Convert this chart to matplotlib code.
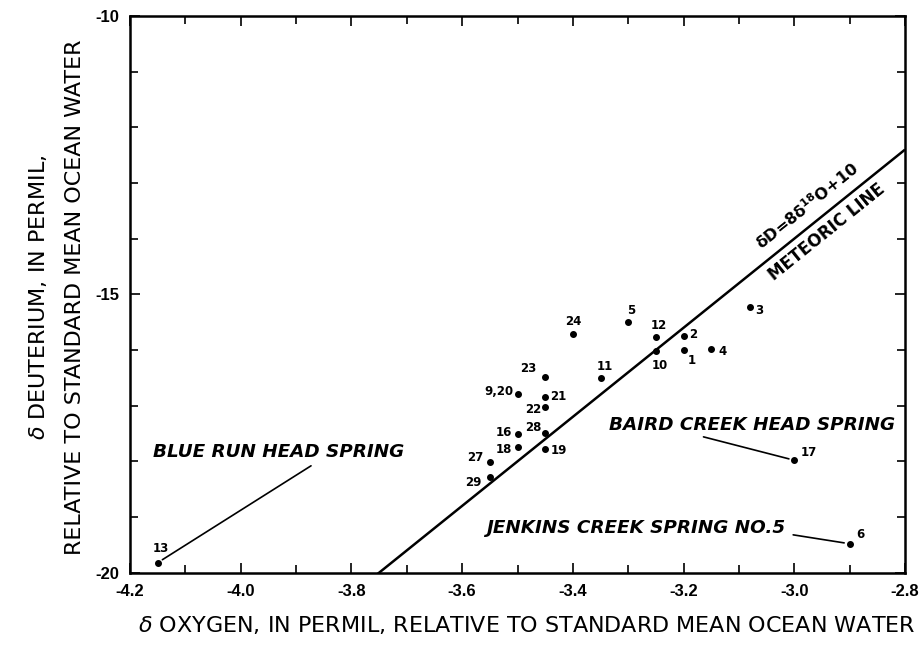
import numpy as np
import matplotlib
matplotlib.use("Agg")
import matplotlib.pyplot as plt
from matplotlib.ticker import MultipleLocator, FuncFormatter

plt.rcParams['font.family'] = ['DejaVu Sans']
plt.rcParams['mathtext.fontset'] = 'dejavusans'

# Spring sample identifiers and isotope values (per mil vs. SMOW)
sample_ids = ['1', '2', '3', '4', '5', '6', '9,20', '10', '11', '12', '13',
              '16', '17', '18', '19', '21', '22', '23', '24', '27', '28', '29']
delta_o18 = [-3.20, -3.20, -3.08, -3.15, -3.30, -2.90, -3.50, -3.25, -3.35, -3.25, -4.15,
             -3.50, -3.00, -3.50, -3.45, -3.45, -3.45, -3.45, -3.40, -3.55, -3.45, -3.55]
delta_d = [-16.00, -15.74, -15.23, -15.99, -15.50, -19.48, -16.79, -16.02, -16.50, -15.77, -19.82,
           -17.51, -17.98, -17.75, -17.77, -16.84, -17.02, -16.49, -15.71, -18.02, -17.49, -18.28]

# label placement (offset in pixels, horizontal alignment)
label_offsets = {
    '1': (8, -10, 'center'), '2': (6, 1, 'left'), '3': (5, -3, 'left'),
    '4': (7, -2, 'left'), '5': (3, 12, 'center'), '6': (7, 9, 'left'),
    '9,20': (-4, 2, 'right'), '10': (4, -14, 'center'), '11': (4, 11, 'center'),
    '12': (3, 12, 'center'), '13': (3, 14, 'center'), '16': (-5, 2, 'right'),
    '17': (6, 8, 'left'), '18': (-5, -2, 'right'), '19': (6, -2, 'left'),
    '21': (5, 0, 'left'), '22': (-4, -3, 'right'), '23': (-9, 9, 'right'),
    '24': (0, 12, 'center'), '27': (-6, 5, 'right'), '28': (-4, 5, 'right'),
    '29': (-8, -6, 'right'),
}

# Named springs: text position and leader line start, pointing to a sample
spring_names = ['BLUE RUN HEAD SPRING', 'BAIRD CREEK HEAD SPRING', 'JENKINS CREEK SPRING NO.5']
spring_sample = ['13', '17', '6']
spring_text_xy = [(-3.931, -17.83), (-3.076, -17.35), (-3.286, -19.20)]
spring_leader_start = [(-3.873, -18.08), (-3.164, -17.56), (-3.002, -19.32)]

# Global meteoric water line: dD = 8 d18O + 10
mwl_slope, mwl_intercept = 8.0, 10.0

fig = plt.figure(figsize=(9.2, 6.49), dpi=100)
ax = fig.add_axes([130 / 920, 1 - 572.7 / 649, 775 / 920, (572.7 - 16) / 649])

ax.set_xlim(-4.2, -2.8)
ax.set_ylim(-20, -10)

xline = np.array([-4.2, -2.8])
ax.plot(xline, mwl_slope * xline + mwl_intercept, color='black', lw=1.8,
        solid_capstyle='butt', zorder=2)

ax.plot(delta_o18, delta_d, 'o', color='black', ms=4, zorder=3, clip_on=False)

for sid, xo, yd in zip(sample_ids, delta_o18, delta_d):
    dx, dy, ha = label_offsets[sid]
    ax.annotate(sid, (xo, yd), xytext=(dx * 0.72, dy * 0.72), textcoords='offset points',
                ha=ha, va='center', fontsize=8.5, fontweight='bold')

for name, sid, txy, lstart in zip(spring_names, spring_sample, spring_text_xy, spring_leader_start):
    i = sample_ids.index(sid)
    ax.text(txy[0], txy[1], name, ha='center', va='center', fontsize=13.2,
            fontweight='bold', fontstyle='italic')
    ax.annotate('', xy=(delta_o18[i], delta_d[i]), xytext=lstart,
                arrowprops=dict(arrowstyle='-', color='black', lw=1.2,
                                shrinkA=0, shrinkB=4))

# labels along the meteoric line
fig.canvas.draw()
p0 = ax.transData.transform((-4.0, mwl_slope * -4.0 + mwl_intercept))
p1 = ax.transData.transform((-3.0, mwl_slope * -3.0 + mwl_intercept))
angle = np.degrees(np.arctan2(p1[1] - p0[1], p1[0] - p0[0]))
ux, uy = np.cos(np.radians(angle)), np.sin(np.radians(angle))
nx, ny = -uy, ux

def along_line(x, perp_px, text, size):
    y = mwl_slope * x + mwl_intercept
    ax.annotate(text, (x, y), xytext=(nx * perp_px * 0.72, ny * perp_px * 0.72),
                textcoords='offset points', rotation=angle, rotation_mode='anchor',
                ha='center', va='center', fontsize=size, fontweight='bold')

along_line(-2.957, 17, r'$\mathbf{\delta}$D=8$\mathbf{\delta}^{\mathbf{18}}$O+10', 11.5)
along_line(-2.958, -15.5, 'METEORIC LINE', 12)

ax.xaxis.set_major_locator(MultipleLocator(0.2))
ax.xaxis.set_minor_locator(MultipleLocator(0.1))
ax.yaxis.set_major_locator(MultipleLocator(5))
ax.yaxis.set_minor_locator(MultipleLocator(1))
ax.tick_params(which='both', direction='in', top=True, right=True, width=1.2,
               labelsize=12, pad=8)
ax.tick_params(which='major', length=7)
ax.tick_params(which='minor', length=6)
ax.xaxis.set_major_formatter(FuncFormatter(lambda v, p: f'{v:.1f}'))
ax.yaxis.set_major_formatter(FuncFormatter(lambda v, p: f'{v:.0f}'))
for lab in ax.get_xticklabels() + ax.get_yticklabels():
    lab.set_fontweight('bold')
    lab.set_fontfamily('Liberation Sans')

for s in ax.spines.values():
    s.set_linewidth(1.8)

ax.set_xlabel(r'$\delta$ OXYGEN, IN PERMIL, RELATIVE TO STANDARD MEAN OCEAN WATER',
              fontsize=16)
ax.xaxis.set_label_coords(0.512, -0.074)
ax.set_ylabel('$\\delta$ DEUTERIUM, IN PERMIL,\nRELATIVE TO STANDARD MEAN OCEAN WATER',
              fontsize=16, linespacing=2.0)
ax.yaxis.set_label_coords(-0.058, 0.495)

fig.savefig('out.png', dpi=100, facecolor='white')
